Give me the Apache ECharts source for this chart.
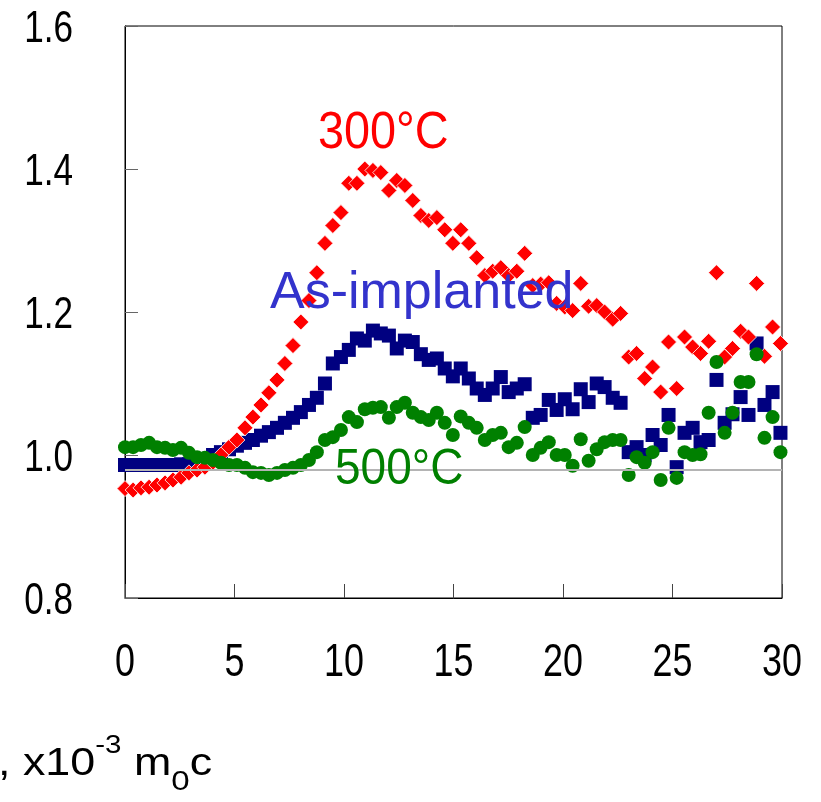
<!DOCTYPE html>
<html>
<head>
<meta charset="utf-8">
<script src="https://cdn.jsdelivr.net/npm/echarts@6/dist/echarts.min.js"></script>
<style>
html,body{margin:0;padding:0;background:#fff;}
#chart{width:821px;height:802px;}
</style>
</head>
<body>
<div id="chart"></div>
<script>
// momentum values (x10^-3 m0c) shared by the three series
var momentum = [0.00,0.37,0.73,1.10,1.46,1.83,2.19,2.56,2.92,3.29,3.65,4.02,4.38,4.75,5.11,5.48,5.84,6.21,6.57,6.94,
  7.30,7.67,8.03,8.40,8.76,9.13,9.49,9.86,10.22,10.59,10.95,11.32,11.68,12.05,12.41,12.78,13.14,13.51,13.87,14.24,
  14.60,14.97,15.33,15.70,16.06,16.43,16.79,17.16,17.52,17.89,18.25,18.62,18.98,19.35,19.71,20.08,20.44,20.81,21.17,21.54,
  21.90,22.27,22.63,23.00,23.36,23.73,24.09,24.46,24.82,25.19,25.55,25.92,26.28,26.65,27.01,27.38,27.74,28.11,28.47,28.84,
  29.20,29.57,29.93];

var ratio300 = [0.953,0.951,0.954,0.955,0.958,0.961,0.965,0.969,0.975,0.979,0.983,0.990,1.000,1.011,1.021,1.038,1.053,1.070,1.087,1.105,
  1.128,1.153,1.186,1.216,1.255,1.296,1.321,1.339,1.380,1.380,1.400,1.398,1.395,1.370,1.384,1.377,1.356,1.335,1.328,1.332,
  1.315,1.296,1.315,1.296,1.276,1.251,1.257,1.262,1.251,1.257,1.282,1.237,1.239,1.241,1.212,1.207,1.202,1.240,1.208,1.209,
  1.200,1.190,1.198,1.137,1.142,1.107,1.123,1.088,1.158,1.093,1.165,1.151,1.142,1.159,1.255,1.137,1.149,1.173,1.165,1.240,
  1.138,1.179,1.156];

var ratioAsImplanted = [0.986,0.986,0.986,0.986,0.986,0.986,0.986,0.987,0.987,0.989,0.990,1.000,1.004,1.008,1.013,1.017,1.021,1.027,1.032,1.038,
  1.045,1.052,1.060,1.070,1.080,1.100,1.128,1.137,1.147,1.163,1.160,1.174,1.170,1.167,1.149,1.160,1.158,1.141,1.133,1.135,
  1.121,1.110,1.121,1.107,1.093,1.084,1.093,1.109,1.088,1.093,1.099,1.052,1.056,1.077,1.063,1.078,1.064,1.092,1.074,1.100,
  1.095,1.080,1.073,1.004,1.011,1.000,1.028,1.014,1.056,0.983,1.031,1.038,1.018,1.021,1.105,1.045,1.057,1.081,1.056,1.156,
  1.070,1.088,1.031];

var ratio500 = [1.011,1.011,1.014,1.017,1.011,1.010,1.007,1.010,1.003,0.997,0.996,0.993,0.989,0.986,0.986,0.982,0.976,0.975,0.972,0.975,
  0.979,0.982,0.986,0.993,1.004,1.021,1.025,1.035,1.053,1.046,1.064,1.066,1.067,1.052,1.067,1.073,1.059,1.053,1.049,1.059,
  1.045,1.028,1.054,1.045,1.038,1.021,1.028,1.031,1.011,1.017,1.039,1.000,1.010,1.018,1.000,1.000,0.985,1.022,0.992,1.008,
  1.018,1.021,1.021,0.972,0.997,0.989,1.004,0.965,1.038,0.968,1.004,1.000,1.001,1.059,1.130,1.031,1.059,1.102,1.102,1.141,
  1.024,1.053,1.004];

var refLevel = 0.982;
var xTicks = [0, 5, 10, 15, 20, 25, 30];
var yTicks = [0.8, 1.0, 1.2, 1.4, 1.6];

function pairs(ys) { return ys.map(function (y, i) { return [momentum[i], y]; }); }

var sansFont = "'Liberation Sans', Arial, sans-serif";
var chart = echarts.init(document.getElementById('chart'), null, {renderer: 'canvas'});
chart.setOption({
  animation: false,
  backgroundColor: '#ffffff',
  grid: {left: 125, right: 39, top: 26, bottom: 204, show: true, borderColor: '#000', borderWidth: 1},
  xAxis: {
    type: 'value', min: xTicks[0], max: xTicks[xTicks.length - 1], interval: 5,
    axisLine: {lineStyle: {color: '#000', width: 1}},
    axisTick: {inside: true, length: 14, lineStyle: {color: '#444'}},
    splitLine: {show: false},
    axisLabel: {show: false}
  },
  yAxis: {
    type: 'value', min: yTicks[0], max: yTicks[yTicks.length - 1], interval: 0.2,
    axisLine: {lineStyle: {color: '#000', width: 1}},
    axisTick: {inside: true, length: 13, lineStyle: {color: '#666'}},
    splitLine: {show: false},
    axisLabel: {show: false}
  },
  series: [
    {
      name: 'As-implanted', type: 'scatter', symbol: 'rect', symbolSize: 14, z: 2,
      itemStyle: {color: '#000080', opacity: 1},
      data: pairs(ratioAsImplanted),
      markLine: {silent: true, symbol: 'none', label: {show: false},
        lineStyle: {color: '#b4b4b4', width: 2, type: 'solid', opacity: 1},
        data: [{yAxis: refLevel}]}
    },
    {
      name: '300ºC', type: 'scatter', symbol: 'diamond', symbolSize: 16, z: 3,
      itemStyle: {color: '#ff0000', borderColor: '#ffffff', borderWidth: 0.8, opacity: 1},
      data: pairs(ratio300)
    },
    {
      name: '500ºC', type: 'scatter', symbol: 'circle', symbolSize: 14, z: 4,
      itemStyle: {color: '#008000', opacity: 1},
      data: pairs(ratio500)
    }
  ]
});

// tick labels placed through the axes' own scales (narrow Arial-like look)
var graphics = [];
xTicks.forEach(function (v) {
  var p = chart.convertToPixel({gridIndex: 0}, [v, yTicks[0]]);
  graphics.push({type: 'text', x: p[0], y: p[1] + 65, scaleX: 0.78, z: 10,
    style: {text: String(v), fill: '#000', font: '46px ' + sansFont, textAlign: 'center', textVerticalAlign: 'middle'}});
});
yTicks.forEach(function (v) {
  var p = chart.convertToPixel({gridIndex: 0}, [xTicks[0], v]);
  graphics.push({type: 'text', x: p[0] - 52, y: p[1] + 4, scaleX: 0.78, z: 10,
    style: {text: v.toFixed(1), fill: '#000', font: '45px ' + sansFont, textAlign: 'right', textVerticalAlign: 'middle'}});
});
graphics.push(
  {type: 'text', x: 318, y: 134, scaleX: 0.9, z: 10, style: {text: '300°C', fill: '#ff0000', font: '52px ' + sansFont, textVerticalAlign: 'middle'}},
  {type: 'text', x: 270, y: 294, z: 10, style: {text: 'As-implanted', fill: '#3333cc', font: '52px ' + sansFont, textVerticalAlign: 'middle'}},
  {type: 'text', x: 335, y: 470, scaleX: 0.92, z: 10, style: {text: '500°C', fill: '#008000', font: '50px ' + sansFont, textVerticalAlign: 'middle'}},
  {type: 'text', x: -2, y: 734, scaleX: 1.18, z: 10, style: {
    text: '{m|, x10}{s|-3}{m| m}{b|0}{m|c}',
    rich: {
      m: {fontSize: 38, fontFamily: sansFont, fill: '#000', lineHeight: 62, verticalAlign: 'middle'},
      s: {fontSize: 25, fontFamily: sansFont, fill: '#000', lineHeight: 48, verticalAlign: 'top'},
      b: {fontSize: 28, fontFamily: sansFont, fill: '#000', lineHeight: 6, verticalAlign: 'bottom'}
    }
  }}
);
chart.setOption({graphic: graphics});
</script>
</body>
</html>
